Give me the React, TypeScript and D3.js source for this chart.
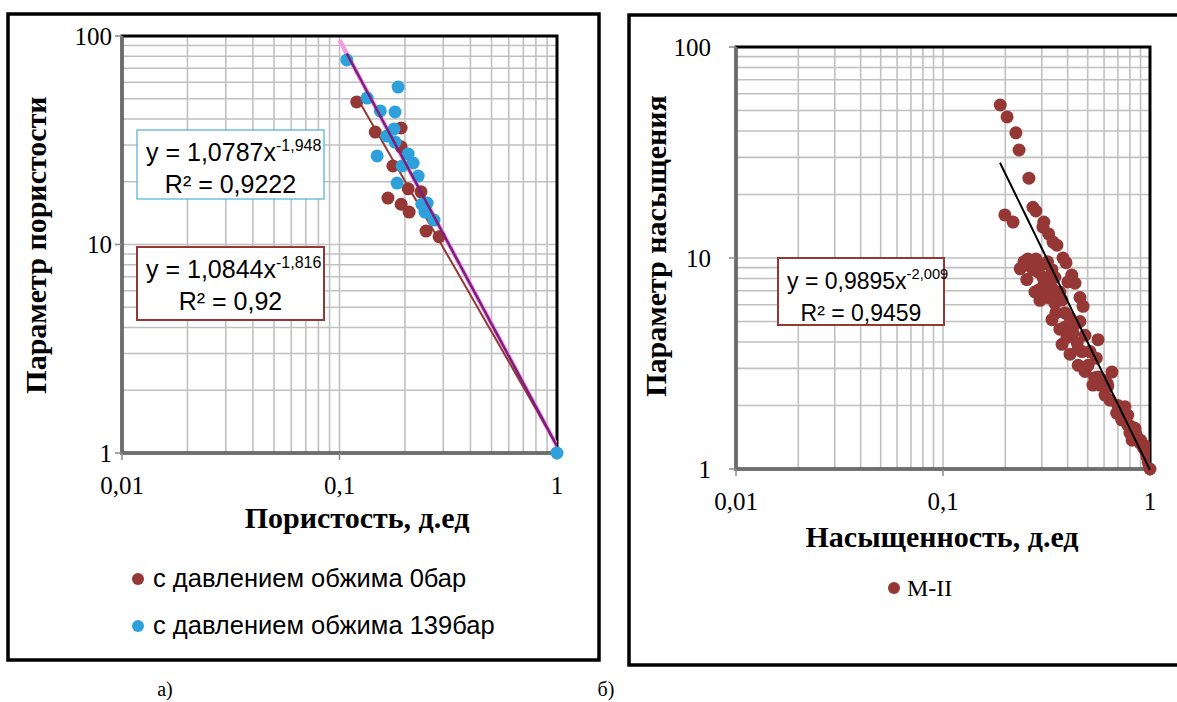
import React from "react";
import * as d3 from "d3";

// ---------- data ----------
const leftRedX = [0.120, 0.146, 0.192, 0.192, 0.176, 0.207, 0.237, 0.167, 0.192, 0.209, 0.250, 0.287, 1];
const leftRedY = [48.3, 34.6, 36.2, 29.4, 23.8, 18.5, 17.9, 16.7, 15.6, 14.3, 11.6, 10.9, 1];
const leftBlueX = [0.108, 0.186, 0.134, 0.154, 0.180, 0.178, 0.165, 0.180, 0.149, 0.207, 0.218, 0.194, 0.184, 0.230, 0.239, 0.253, 0.247, 0.272, 1];
const leftBlueY = [76.7, 56.9, 50.4, 43.7, 43.2, 35.8, 33.1, 31.0, 26.6, 27.2, 24.6, 23.8, 19.7, 21.3, 15.6, 15.8, 14.3, 13.1, 1];
const leftRedFit = { a: 1.0844, b: -1.816, from: 0.12, to: 1 };
const leftBlueFit = { a: 1.0787, b: -1.948, from: 0.1, to: 1 };
const leftBlueFitData = { a: 1.0787, b: -1.948, from: 0.108, to: 1 };

const rightX = [
  0.189, 0.204, 0.225, 0.233, 0.260, 0.199, 0.218, 0.272, 0.281, 0.307,
  0.304, 0.324, 0.340, 0.355, 0.380, 0.393, 0.257, 0.281, 0.272, 0.301,
  0.304, 0.347, 0.419, 0.434, 0.401, 0.304, 0.318, 0.329, 0.318, 0.459,
  0.475, 0.351, 0.388, 0.459, 0.388, 0.397, 0.424, 0.445, 0.561, 0.469,
  0.513, 0.550, 0.502, 0.561, 0.620, 0.655, 0.573, 0.690, 0.757, 0.780,
  0.730, 0.800, 0.846, 0.865, 0.895, 0.946, 0.967, 1.0, 0.980, 0.925,
  0.236, 0.254, 0.278, 0.294, 0.336, 0.367, 0.376, 0.411, 0.450, 0.485,
  0.530, 0.606, 0.641, 0.780, 0.820, 0.700, 0.750, 0.810, 0.850, 0.900,
  0.940, 0.960, 0.990, 0.990, 0.540, 0.590, 0.625, 0.375, 0.410, 0.430,
  0.485, 0.450, 0.310, 0.336, 0.367, 0.290, 0.347, 0.246, 0.266, 0.288,
  0.320, 0.336,
];
const rightY = [
  53.1, 46.6, 39.2, 32.5, 23.9, 16.0, 14.8, 17.4, 16.7, 14.8,
  14.0, 13.0, 11.9, 11.5, 10.0, 9.5, 9.9, 9.9, 8.8, 9.3,
  8.1, 8.1, 8.3, 7.6, 7.7, 7.3, 7.3, 6.5, 6.5, 6.5,
  5.9, 5.5, 5.5, 5.0, 4.7, 4.2, 4.4, 3.95, 4.1, 3.6,
  3.6, 3.35, 3.1, 2.73, 2.55, 2.88, 2.5, 1.84, 1.97, 1.80,
  1.71, 1.48, 1.56, 1.42, 1.33, 1.23, 1.14, 1.0, 1.08, 1.27,
  8.9, 7.9, 6.9, 6.3, 5.1, 4.6, 3.9, 3.5, 3.1, 2.9,
  2.5, 2.24, 2.12, 1.62, 1.37, 2.0, 1.84, 1.59, 1.50, 1.37,
  1.29, 1.20, 1.10, 1.04, 2.71, 2.64, 2.47, 6.32, 5.2, 4.8,
  4.3, 3.7, 7.7, 7.2, 6.9, 7.05, 6.1, 9.6, 9.1, 8.6,
  9.6, 8.8,
];
const rightFit = { a: 0.9895, b: -2.009, from: 0.1885, to: 1 };

const xTickValues = [0.01, 0.1, 1];
const xTickLabels = ["0,01", "0,1", "1"];
const yTickValues = [1, 10, 100];
const yTickLabels = ["1", "10", "100"];

const legendLeft = ["с давлением обжима 0бар", "с давлением обжима 139бар"];
const legendRight = ["M-II"];

// ---------- styling ----------
const RED = "#953735";
const BLUE = "#2ea1dd";
const GRID = "#c0c0c0";
const SERIF = "'Liberation Serif', 'Times New Roman', serif";
const SANS = "'Liberation Sans', Arial, sans-serif";

type Box = { x0: number; x1: number; y0: number; y1: number; gap: number };

function gridVals(lo: number, hi: number): number[] {
  const out: number[] = [];
  for (let d = lo; d < hi * 0.999; d *= 10) {
    for (let k = 1; k < 10; k++) out.push(k * d);
  }
  out.push(hi);
  return out;
}

function scales(box: Box) {
  const x = d3.scaleLog().domain([0.01, 1]).range([box.x0, box.x1]);
  const y = d3.scaleLog().domain([1, 100]).range([box.y1, box.y0]);
  return { x, y };
}

function fitPath(
  fit: { a: number; b: number; from: number; to: number },
  sx: d3.ScaleLogarithmic<number, number>,
  sy: d3.ScaleLogarithmic<number, number>
) {
  const pts = d3.range(0, 41).map((i) => fit.from * Math.pow(fit.to / fit.from, i / 40));
  return d3.line<number>().x((v) => sx(v)).y((v) => sy(fit.a * Math.pow(v, fit.b)))(pts) || "";
}

function Frame({ box, id }: { box: Box; id: string }) {
  const { x, y } = scales(box);
  const gx = gridVals(0.01, 1);
  const gy = gridVals(1, 100);
  return (
    <g>
      {gx.map((v, i) => (
        <line key={"gx" + i} x1={x(v)} x2={x(v)} y1={box.y0} y2={box.y1} stroke={GRID} strokeWidth={1.6} />
      ))}
      {gy.map((v, i) => (
        <line key={"gy" + i} x1={box.x0} x2={box.x1} y1={y(v)} y2={y(v)} stroke={GRID} strokeWidth={1.6} />
      ))}
      <rect x={box.x0} y={box.y0} width={box.x1 - box.x0} height={box.y1 - box.y0} fill="none" stroke="#000" strokeWidth={3} />
      <line x1={box.x0} x2={box.x0} y1={box.y0} y2={box.y1 + 1.5} stroke="#6e6e6e" strokeWidth={3} />
      <line x1={box.x0 - 1.5} x2={box.x1} y1={box.y1} y2={box.y1} stroke="#6e6e6e" strokeWidth={3} />
      {yTickValues.map((v, i) => (
        <g key={"yt" + i}>
          <line x1={box.x0 - 7} x2={box.x0} y1={y(v)} y2={y(v)} stroke="#8a8a8a" strokeWidth={1.5} />
          <text x={box.x0 - box.gap} y={y(v)} dy="0.35em" textAnchor="end" fontFamily={SERIF} fontSize={25}>
            {yTickLabels[i]}
          </text>
        </g>
      ))}
      {xTickValues.map((v, i) => (
        <g key={"xt" + i}>
          <line x1={x(v)} x2={x(v)} y1={box.y1} y2={box.y1 + 7} stroke="#8a8a8a" strokeWidth={1.5} />
          <text x={x(v)} y={box.y1 + 41} textAnchor="middle" fontFamily={SERIF} fontSize={25}>
            {xTickLabels[i]}
          </text>
        </g>
      ))}
      <clipPath id={id}>
        <rect x={box.x0} y={box.y0} width={box.x1 - box.x0} height={box.y1 - box.y0} />
      </clipPath>
    </g>
  );
}

function Equation({ x, y, w, h, color, sw, a, b, r2, fs }: any) {
  return (
    <g>
      <rect x={x} y={y} width={w} height={h} fill="#fff" stroke={color} strokeWidth={sw} />
      <text x={x + 9} y={y + 31} fontFamily={SANS} fontSize={fs}>
        <tspan>{"y = " + a + "x"}</tspan>
        <tspan dy={-10} fontSize={fs * 0.64}>{b}</tspan>
      </text>
      <text x={x + w / 2} y={y + 63} textAnchor="middle" fontFamily={SANS} fontSize={fs}>
        {"R² = " + r2}
      </text>
    </g>
  );
}

export default function App() {
  const L: Box = { x0: 122, x1: 557, y0: 36, y1: 453, gap: 10 };
  const R: Box = { x0: 736, x1: 1150, y0: 47, y1: 469, gap: 25 };
  const ls = scales(L);
  const rs = scales(R);

  return (
    <svg width={1177} height={702} style={{ position: "absolute", left: 0, top: 0, background: "#fff" }}>
      <rect x={0} y={0} width={1177} height={702} fill="#fff" />
      {/* left panel */}
      <rect x={8} y={14} width={591} height={646} fill="#fff" stroke="#000" strokeWidth={3.5} />
      <Frame box={L} id="clipL" />
      <g clipPath="url(#clipL)">
        <path d={fitPath(leftBlueFit, ls.x, ls.y)} fill="none" stroke="#f29ae6" strokeWidth={4.5} />
        <path d={fitPath(leftRedFit, ls.x, ls.y)} fill="none" stroke={RED} strokeWidth={2} />
        {leftRedX.map((v, i) => (
          <circle key={"lr" + i} cx={ls.x(v)} cy={ls.y(leftRedY[i])} r={6.5} fill={RED} />
        ))}
        {leftBlueX.map((v, i) => (
          <circle key={"lb" + i} cx={ls.x(v)} cy={ls.y(leftBlueY[i])} r={6.5} fill={BLUE} />
        ))}
        <path d={fitPath(leftBlueFitData, ls.x, ls.y)} fill="none" stroke="#7a1f7c" strokeWidth={2.5} />
      </g>
      <circle cx={ls.x(1)} cy={ls.y(1)} r={6.5} fill={BLUE} />
      <Equation x={137} y={130} w={187} h={69} color="#4bb0d8" sw={1.2} a="1,0787" b="-1,948" r2="0,9222" fs={25} />
      <Equation x={137} y={247} w={187} h={73} color={RED} sw={2} a="1,0844" b="-1,816" r2="0,92" fs={25} />
      <text transform="translate(35,245) rotate(-90)" textAnchor="middle" dy="0.35em" fontFamily={SERIF} fontWeight="bold" fontSize={30}>
        Параметр пористости
      </text>
      <text x={357} y={528} textAnchor="middle" fontFamily={SERIF} fontWeight="bold" fontSize={30}>
        Пористость, д.ед
      </text>
      {legendLeft.map((t, i) => (
        <g key={"ll" + i}>
          <circle cx={138} cy={579 + i * 47} r={6} fill={i === 0 ? RED : BLUE} />
          <text x={153} y={587 + i * 47} fontFamily={SANS} fontSize={25.5}>
            {t}
          </text>
        </g>
      ))}
      <text x={165} y={696} textAnchor="middle" fontFamily={SERIF} fontSize={20}>а)</text>
      <text x={606} y={696} textAnchor="middle" fontFamily={SERIF} fontSize={20}>б)</text>

      {/* right panel */}
      <rect x={629} y={15} width={560} height={650} fill="#fff" stroke="#000" strokeWidth={3.5} />
      <Frame box={R} id="clipR" />
      <g clipPath="url(#clipR)">
        {rightX.map((v, i) => (
          <circle key={"r" + i} cx={rs.x(v)} cy={rs.y(rightY[i])} r={6.5} fill={RED} />
        ))}
      </g>
      {rightX.filter((v) => v >= 0.999).map((v, i) => (
        <circle key={"re" + i} cx={rs.x(v)} cy={rs.y(1)} r={6.5} fill={RED} />
      ))}
      <path d={fitPath(rightFit, rs.x, rs.y)} fill="none" stroke="#000" strokeWidth={2} />
      <Equation x={778} y={258} w={166} h={67} color={RED} sw={2} a="0,9895" b="-2,009" r2="0,9459" fs={23} />
      <text transform="translate(655,246) rotate(-90)" textAnchor="middle" dy="0.35em" fontFamily={SERIF} fontWeight="bold" fontSize={30}>
        Параметр насыщения
      </text>
      <text x={942} y={547} textAnchor="middle" fontFamily={SERIF} fontWeight="bold" fontSize={30}>
        Насыщенность, д.ед
      </text>
      {legendRight.map((t, i) => (
        <g key={"rl" + i}>
          <circle cx={894} cy={588} r={6} fill={RED} />
          <text x={907} y={596} fontFamily={SERIF} fontSize={24}>
            {t}
          </text>
        </g>
      ))}
    </svg>
  );
}
